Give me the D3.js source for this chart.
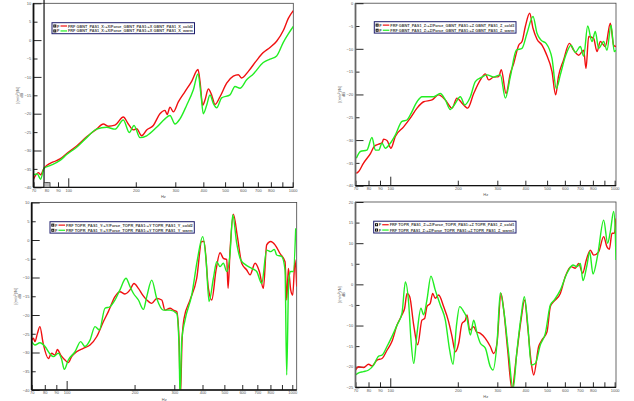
<!DOCTYPE html>
<html>
<head>
<meta charset="utf-8">
<script src="https://cdn.jsdelivr.net/npm/d3@7"></script>
<style>
  html, body { margin: 0; padding: 0; background: #fff; }
  svg { display: block; font-family: "Liberation Sans", Arial, sans-serif; }
  .tick text { fill: #555; font-size: 4px; }
  .domain { display: none; }
</style>
</head>
<body>
<div class="chart"></div>
<script>
// Frequency ticks shared by all four plots (900 has a mark but no label)
const freqTicks = [70, 80, 90, 100, 200, 300, 400, 500, 600, 700, 800, 900, 1000];

// Y ticks per plot (dB)
const yTicksGbntX = [10, 5, 0, -5, -10, -15, -20, -25, -30, -35, -40];
const yTicksGbntZ = [0, -5, -10, -15, -20, -25, -30, -35, -40];
const yTicksToprY = [10, 5, 0, -5, -10, -15, -20, -25, -30, -35, -40];
const yTicksToprZ = [20, 15, 10, 5, 0, -5, -10, -15, -20, -25];

// [Hz, dB]
const gbntXCold = [[70,-37.8],[73.6,-36.0],[75.3,-36.6],[78,-34.8],[80.1,-34.1],[85.8,-33.1],[91.9,-32.3],[98.4,-30.8],[109,-28.8],[120.8,-26.3],[133.8,-24.2],[143.3,-22.8],[150.9,-23.4],[161.5,-23.1],[176,-20.9],[185.2,-22.8],[195,-24.4],[201.8,-24.1],[212.4,-26.0],[223.6,-24.4],[239.4,-23.2],[256.3,-20.0],[269.8,-19.1],[276,-20.2],[284.1,-18.2],[294,-19.5],[309.5,-16.8],[331.4,-14.0],[354.9,-11.2],[378.7,-8.0],[386.5,-11.2],[397.2,-17.7],[406.8,-16.3],[421,-13.3],[435.6,-14.9],[450.8,-17.5],[474.6,-15.4],[508.2,-11.7],[544.1,-9.8],[572.7,-9.4],[592.6,-10.3],[634.8,-8.5],[691.5,-5.5],[740.1,-3.4],[792.7,-2.0],[848.7,-0.3],[908.9,2.6],[956.8,5.9],[1007,8.0]];
const gbntXWarm = [[70,-36.6],[72.8,-36.4],[75.3,-37.8],[78,-34.8],[82.9,-34.1],[91.9,-32.7],[98.4,-31.1],[109,-29.1],[120.8,-26.5],[133.8,-24.2],[148.3,-23.7],[161.5,-24.2],[176,-21.7],[187.1,-25.1],[196.4,-23.2],[208.8,-26.5],[223.6,-26.0],[247.7,-23.7],[269.8,-21.4],[284.1,-20.5],[299,-22.8],[314.8,-21.4],[337.1,-17.7],[361,-13.5],[378.7,-9.2],[390.5,-14.9],[399.9,-20.0],[413.8,-17.7],[428.3,-14.9],[443.1,-17.2],[458.6,-18.4],[482.8,-15.7],[525.8,-14.9],[553.4,-12.6],[582.6,-13.1],[623.9,-10.8],[668.2,-9.2],[740.1,-6.1],[792.7,-5.2],[848.7,-4.3],[908.9,-0.6],[956.8,1.7],[1007,3.7]];

const gbntZCold = [[70.6,-37.3],[72.3,-36.9],[75.9,-35.1],[81.7,-32.9],[84.8,-31.4],[88.8,-30.9],[91.9,-30.6],[93.4,-29.8],[96.7,-30.1],[100.7,-31.8],[105.3,-29.2],[114.7,-27.1],[122.8,-25.2],[131.6,-23.0],[140.9,-21.6],[153.5,-21.2],[164.3,-20.1],[176,-21.2],[188.4,-23.0],[198.3,-20.8],[208.8,-21.9],[221.4,-23.0],[235.4,-19.8],[252.1,-16.8],[265.3,-15.5],[274.6,-16.8],[288.9,-16.2],[304.2,-16.1],[312.6,-14.6],[328,-19.8],[342.9,-15.4],[354.9,-13.2],[373.6,-9.2],[386.5,-8.4],[399.9,-5.1],[418.1,-2.2],[432.7,-5.5],[450.8,-7.9],[474.6,-9.2],[494.5,-11.0],[525.8,-15.0],[545.8,-20.1],[561.6,-16.1],[592.6,-12.4],[628.1,-8.8],[656.7,-10.3],[691.5,-11.4],[727.6,-10.3],[745.3,-14.3],[766,-7.3],[806,-7.7],[834.1,-10.6],[863.7,-8.4],[908.9,-9.5],[956.8,-4.4],[989.8,-9.2],[1014,-9.5]];
const gbntZWarm = [[70.6,-34.0],[73.6,-32.5],[78.7,-32.2],[82.9,-29.4],[85.8,-32.2],[88.8,-32.2],[91.9,-30.7],[95,-31.8],[100,-30.7],[105.3,-28.9],[112.8,-25.9],[118.7,-25.6],[122.8,-24.5],[131.6,-21.6],[138.5,-20.5],[148.3,-20.5],[156.2,-20.5],[167.1,-19.8],[176,-21.2],[185.2,-23.3],[192.9,-22.3],[205.3,-20.5],[214.8,-22.3],[227.5,-20.5],[239.4,-17.2],[256.3,-16.2],[269.8,-15.7],[288.9,-16.2],[309.5,-15.7],[325.8,-20.8],[342.9,-16.1],[364.7,-10.3],[386.5,-9.9],[406.8,-6.6],[432.7,-2.9],[450.8,-6.6],[469.7,-8.1],[494.5,-8.8],[525.8,-12.1],[549.5,-18.7],[572.7,-15.7],[602.8,-11.7],[638.9,-9.2],[668.2,-10.8],[703.1,-9.5],[727.6,-11.6],[758.1,-5.0],[792.7,-8.4],[819.8,-6.2],[848.7,-9.9],[893.3,-8.4],[924.4,-10.3],[963.5,-4.8],[996.6,-10.6],[1014,-10.3]];

const toprYCold = [[70,-26.7],[71.2,-26.2],[72.4,-27.1],[74.2,-24.9],[76.1,-23.1],[78.7,-27.6],[83,-31.6],[85.8,-30.2],[88.8,-30.7],[91,-29.2],[94.1,-30.7],[98.3,-32.0],[101.7,-32.7],[105.2,-31.1],[110.7,-29.8],[118.5,-28.9],[126.9,-28.0],[135.8,-25.8],[145.4,-21.8],[153,-19.1],[163.8,-15.1],[172.3,-13.8],[181.3,-14.4],[190.8,-13.3],[198.8,-11.6],[208,-12.9],[217.4,-14.7],[226.5,-16.0],[238.3,-16.9],[250.8,-15.6],[263.9,-16.0],[272.9,-18.7],[287.2,-18.2],[297.2,-18.7],[307.5,-19.1],[314.9,-26.7],[319.2,-42],[324.7,-26.7],[331.4,-20.9],[352.3,-16.0],[377.1,-10.2],[396.8,-0.4],[406.4,-0.4],[424.8,-12.9],[439.5,-16.0],[459.3,-8.0],[478.5,-3.4],[495,-4.9],[512.2,-5.2],[519.2,-12.9],[529.9,-2.7],[548.2,6.9],[571.1,0.9],[596.9,-6.2],[628.1,-8.0],[649.9,-9.3],[684,-6.2],[714.6,-8.4],[744.3,-12.9],[770.1,-1.3],[802.2,-0.4],[838.5,-1.3],[882.4,-3.6],[928.6,-5.8],[944.5,-16.0],[960.7,-7.6],[983.9,-13.3],[1004.3,-14.7],[1028.5,-5.3],[1046.2,-12.4]];
const toprYWarm = [[70,-27.1],[72.4,-28.0],[76.1,-27.4],[80.2,-28.4],[83.9,-30.2],[87.3,-31.1],[91.9,-30.2],[95,-31.8],[97.6,-34.5],[101.7,-32.0],[108.9,-29.8],[115.4,-27.1],[120.5,-28.4],[126.9,-26.7],[133.5,-23.1],[139.6,-24.0],[147.9,-18.2],[155.6,-17.8],[163.8,-16.0],[172.3,-13.3],[183.2,-10.2],[190.8,-12.4],[197.5,-14.2],[208,-16.0],[218.9,-18.5],[226.5,-15.1],[238.3,-10.7],[250.8,-15.6],[268.4,-18.7],[287.2,-18.7],[307.5,-19.6],[314.9,-28.4],[318.1,-42],[323.6,-26.7],[334.8,-21.3],[358.3,-14.7],[379.6,-5.3],[400.9,0.9],[414.8,-5.3],[427.7,-16.4],[447,-10.2],[462.5,-5.8],[478.5,-7.1],[495,-6.2],[512.2,-8.4],[529.9,-3.6],[544.5,6.7],[567.2,-0.9],[590.8,-5.3],[623.9,-6.7],[661.1,-7.6],[695.3,-8.4],[731.7,-11.6],[770.1,-2.7],[802.2,-3.1],[832.7,-2.5],[852.9,-4.0],[897.5,-4.4],[928.6,-8.0],[944.5,-36.0],[964,-10.7],[983.9,-8.4],[1011.1,-8.4],[1035.6,3.1]];

const toprZCold = [[70,-20.8],[72.3,-20.0],[75.9,-20.2],[80.1,-19.4],[82.9,-19.8],[87.3,-18.4],[91.9,-18.0],[96.7,-16.0],[101.7,-13.9],[107.2,-9.9],[112.8,-7.4],[115.9,-5.8],[118.8,-2.2],[122.1,-3.0],[127.2,-9.9],[132.5,-14.7],[138.4,-8.7],[142.3,-8.3],[145.7,-5.4],[150.8,-4.6],[154.5,-2.2],[158.7,-3.4],[164.3,-2.6],[172.9,-5.4],[182.1,-9.1],[188.5,-12.7],[195,-16.4],[201.8,-14.3],[208.8,-9.5],[216.1,-8.7],[219.8,-7.4],[225.9,-11.1],[235.4,-10.3],[241.9,-11.5],[252.1,-11.9],[265.3,-13.1],[279.2,-15.1],[288.9,-16.8],[299,-14.3],[311.6,-2.2],[320.3,-6.2],[333.7,-16.0],[348.8,-25.5],[364.7,-17.6],[382.6,-8.7],[397.2,-3.8],[409.7,-10.3],[425.3,-19.2],[435.6,-22.0],[458.6,-15.1],[474.5,-13.5],[499.6,-11.5],[517,-5.4],[534.9,-4.2],[572.7,-2.2],[602.8,1.9],[638.9,4.3],[667.8,3.9],[691.1,5.1],[720.1,2.7],[747.8,5.9],[779.2,8.3],[806.4,7.1],[848.7,7.9],[893.3,11.6],[924.4,9.1],[946.8,8.5],[973.2,12.4],[996.7,12.4],[1014,16.0]];
const toprZWarm = [[70,-22.0],[72.3,-21.5],[75.9,-21.2],[80.1,-20.8],[84.3,-19.6],[88.8,-17.4],[91.9,-17.2],[96.7,-15.1],[101.7,-12.7],[107.2,-9.9],[112.8,-7.0],[116.8,0.6],[120.8,-4.6],[123.7,-13.5],[127.2,-19.2],[131.6,-11.9],[137,-5.8],[140.8,-7.4],[145.7,-3.8],[151.8,2.0],[158.7,-1.4],[167.1,-5.0],[176,-8.7],[184,-16.0],[190.4,-19.4],[197,-10.3],[203.9,-5.4],[212.4,-6.6],[219.8,-8.3],[227.5,-12.3],[235.4,-8.7],[243.6,-11.9],[252.1,-14.3],[265.3,-15.5],[279.2,-20.0],[287,-20.8],[299,-14.3],[309.5,-2.0],[320.3,-6.2],[337.1,-16.8],[352.4,-25.5],[367.2,-16.0],[382.6,-7.9],[395.9,-3.0],[409.7,-9.5],[425.3,-19.6],[443.1,-19.2],[466.5,-14.7],[491.1,-11.9],[517,-5.0],[538.6,-3.8],[572.7,-1.4],[613.2,2.7],[652.1,4.7],[679.4,4.3],[703.1,5.1],[722.6,0.9],[753,4.7],[773.9,7.9],[800.9,2.5],[840.1,7.1],[893.3,15.6],[930.8,10.0],[956.8,12.8],[989.9,17.7],[1006.9,12.4],[1014,5.9]];

// Legend entries
const legendGbntX = ["FRF GBNT_PAS1_X:+X/Force_GBNT_PAS1:+X GBNT_PAS1_X_cold2", "FRF GBNT_PAS1_X:+X/Force_GBNT_PAS1:+X GBNT_PAS1_X_warm"];
const legendGbntZ = ["FRF GBNT_PAS1_Z:+Z/Force_GBNT_PAS1:+Z GBNT_PAS1_Z_cold3", "FRF GBNT_PAS1_Z:+Z/Force_GBNT_PAS1:+Z GBNT_PAS1_Z_warm"];
const legendToprY = ["FRF TOPR_PAS1_Y:+Y/Force_TOPR_PAS1:+Y TOPR_PAS1_Y_cold2", "FRF TOPR_PAS1_Y:+Y/Force_TOPR_PAS1:+Y TOPR_PAS1_Y_warm"];
const legendToprZ = ["FRF TOPR_PAS1_Z:+Z/Force_TOPR_PAS1:+Z TOPR_PAS1_Z_cold1", "FRF TOPR_PAS1_Z:+Z/Force_TOPR_PAS1:+Z TOPR_PAS1_Z_warm1"];

const cursorFreq = 78; // cursor shown in the first plot

const COLD_COLOR = "#f01010";
const WARM_COLOR = "#22ee22";

// Layout of the four plots (pixels)
const layout = [
  { cold: gbntXCold, warm: gbntXWarm, legend: legendGbntX, yTicks: yTicksGbntX, fMax: 1007, yDomain: [-40, 10],
    x0: 33.5, x1: 293.3, y0: 3.3, y1: 187.3, leg: [52, 22.7, 142.5, 11], axisColor: "#111", cursor: true },
  { cold: gbntZCold, warm: gbntZWarm, legend: legendGbntZ, yTicks: yTicksGbntZ, fMax: 1014, yDomain: [-40, 0],
    x0: 355.5, x1: 616, y0: 3.2, y1: 185.7, leg: [374.3, 21.7, 141.7, 11.4], axisColor: "#666" },
  { cold: toprYCold, warm: toprYWarm, legend: legendToprY, yTicks: yTicksToprY, fMax: 1046, yDomain: [-40, 10],
    x0: 31.7, x1: 296.7, y0: 202.5, y1: 390, leg: [50, 221.7, 144.3, 11.4], axisColor: "#111" },
  { cold: toprZCold, warm: toprZWarm, legend: legendToprZ, yTicks: yTicksToprZ, fMax: 1014, yDomain: [-25, 20],
    x0: 355.5, x1: 616, y0: 202, y1: 387.3, leg: [373.7, 221.2, 142.3, 11.8], axisColor: "#666" },
];

const svg = d3.select(".chart").append("svg")
  .attr("width", 634)
  .attr("height", 401);

layout.forEach((p, i) => {
  const x = d3.scaleLog().domain([70, p.fMax]).range([p.x0, p.x1]);
  const y = d3.scaleLinear().domain(p.yDomain).range([p.y1, p.y0]);
  const g = svg.append("g").attr("class", `plot plot-${i}`);

  // clip for the curves
  g.append("clipPath").attr("id", `clip-${i}`)
    .append("rect")
    .attr("x", p.x0).attr("y", p.y0)
    .attr("width", p.x1 - p.x0).attr("height", p.y1 - p.y0);

  // frame
  g.append("rect")
    .attr("x", p.x0).attr("y", p.y0)
    .attr("width", p.x1 - p.x0).attr("height", p.y1 - p.y0)
    .attr("fill", "none").attr("stroke", "#444").attr("stroke-width", 0.8);

  // y axis (ticks point inside the plot)
  const yAxis = g.append("g")
    .attr("transform", `translate(${p.x0},0)`)
    .call(d3.axisLeft(y).tickValues(p.yTicks).tickSize(0).tickPadding(2.2));
  yAxis.selectAll(".tick line")
    .attr("x2", d => (d % 10 === 0 ? 8 : 4))
    .attr("stroke", "#111").attr("stroke-width", 0.9);
  yAxis.selectAll(".tick text").attr("font-size", 4);

  // x axis (ticks point up)
  const xAxis = g.append("g")
    .attr("transform", `translate(0,${p.y1})`)
    .call(d3.axisBottom(x).tickValues(freqTicks).tickFormat(d => (d === 900 ? "" : d)).tickSize(0).tickPadding(1.6));
  xAxis.selectAll(".tick line")
    .attr("y2", d => (d === 100 ? -9 : -5))
    .attr("stroke", "#111").attr("stroke-width", 0.9);
  xAxis.selectAll(".tick text").attr("font-size", 4);

  // curves
  const line = d3.line()
    .x(d => x(d[0]))
    .y(d => y(d[1]))
    .curve(d3.curveMonotoneX);
  const curves = g.append("g").attr("clip-path", `url(#clip-${i})`);
  curves.append("path").datum(p.cold)
    .attr("d", line).attr("fill", "none")
    .attr("stroke", COLD_COLOR).attr("stroke-width", 1.4).attr("stroke-linejoin", "round");
  curves.append("path").datum(p.warm)
    .attr("d", line).attr("fill", "none")
    .attr("stroke", WARM_COLOR).attr("stroke-width", 1.4).attr("stroke-linejoin", "round");

  // heavy left and bottom axis lines
  g.append("line")
    .attr("x1", p.x0).attr("x2", p.x0).attr("y1", p.y0).attr("y2", p.y1)
    .attr("stroke", p.axisColor).attr("stroke-width", 1.8);
  g.append("line")
    .attr("x1", p.x0).attr("x2", p.x1).attr("y1", p.y1).attr("y2", p.y1)
    .attr("stroke", "#111").attr("stroke-width", 1.3);

  // cursor
  if (p.cursor) {
    const cx = x(cursorFreq);
    g.append("line")
      .attr("x1", cx).attr("x2", cx).attr("y1", 0).attr("y2", p.y1)
      .attr("stroke", "#111").attr("stroke-width", 1.2);
    g.append("rect")
      .attr("x", cx).attr("y", p.y1 - 4.6)
      .attr("width", 6).attr("height", 4.6)
      .attr("fill", "#bbb").attr("stroke", "#222").attr("stroke-width", 0.7);
  }

  // axis titles
  const midY = (p.y0 + p.y1) / 2;
  const ttl = g.append("text")
    .attr("transform", `translate(${p.x0 - 15},${midY}) rotate(-90)`)
    .attr("text-anchor", "middle").attr("font-size", 4).attr("fill", "#555");
  ttl.append("tspan").attr("x", 0).attr("dy", 0).text("[(m/s²)/N]");
  ttl.append("tspan").attr("x", 0).attr("dy", 4.5).text("dB");
  g.append("text")
    .attr("x", (p.x0 + p.x1) / 2).attr("y", p.y1 + 10.5)
    .attr("text-anchor", "middle").attr("font-size", 4).attr("fill", "#555")
    .text("Hz");

  // legend
  const [lx, ly, lw, lh] = p.leg;
  const lg = g.append("g").attr("class", "legend");
  lg.append("rect")
    .attr("x", lx).attr("y", ly).attr("width", lw).attr("height", lh)
    .attr("fill", "#fff").attr("stroke", "#1c1c6c").attr("stroke-width", 1);
  const rows = lg.selectAll("g.row")
    .data(p.legend.map((t, k) => ({ t, c: k === 0 ? COLD_COLOR : WARM_COLOR, k })))
    .join("g").attr("class", "row")
    .attr("transform", d => `translate(${lx},${ly + lh * (0.3 + d.k * 0.45)})`);
  rows.append("rect").attr("x", 1.3).attr("y", -1.5).attr("width", 3).attr("height", 3).attr("fill", "#111");
  rows.append("rect").attr("x", 2.3).attr("y", -0.5).attr("width", 1).attr("height", 1).attr("fill", "#fff");
  rows.append("text").attr("x", 5).attr("y", 1.5).attr("font-size", 4).attr("font-weight", "bold").attr("fill", "#444").text("F");
  rows.append("line").attr("x1", 8.5).attr("x2", 15).attr("y1", 0).attr("y2", 0)
    .attr("stroke", d => d.c).attr("stroke-width", 1.2);
  rows.append("text").attr("x", 16).attr("y", 1.5)
    .attr("font-size", 4).attr("font-weight", "bold").attr("fill", "#444")
    .attr("textLength", lw - 17.5).attr("lengthAdjust", "spacingAndGlyphs")
    .text(d => d.t);
});
</script>
</body>
</html>
